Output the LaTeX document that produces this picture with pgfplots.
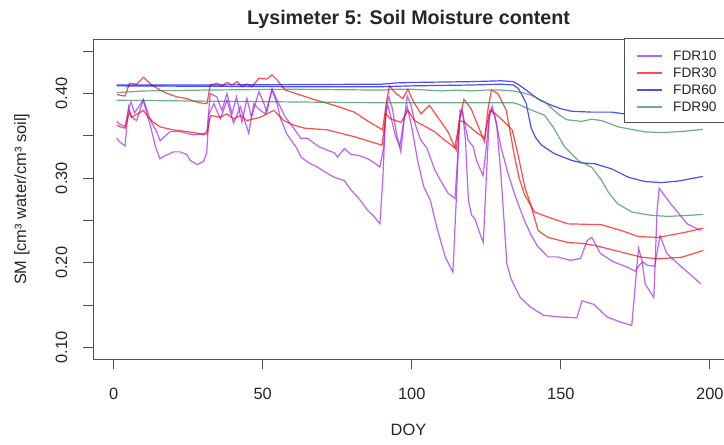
\documentclass[border=0pt]{standalone}
\usepackage{fontspec}
\setmainfont{Liberation Sans}
\usepackage{pgfplots}
\pgfplotsset{compat=1.18}
\definecolor{rpurple}{HTML}{A020F0}
\definecolor{rred}{HTML}{FF0000}
\definecolor{rblue}{HTML}{0000FF}
\definecolor{rgreen}{HTML}{2E8B57}
\definecolor{lpurple}{HTML}{BC63F5}
\definecolor{lred}{HTML}{FF4D4D}
\definecolor{lblue}{HTML}{4D4DFF}
\definecolor{lgreen}{HTML}{6DAE89}
\definecolor{axgray}{HTML}{505050}
\newcommand{\legline}[1]{\textcolor{#1}{\rule[4.1pt]{25pt}{1.6pt}}}
\begin{document}
\begin{tikzpicture}
\useasboundingbox (0,0) rectangle (724pt,445pt);
\begin{axis}[
  at={(93.3pt,85.7pt)}, anchor=south west,
  width=631pt, height=320pt, scale only axis,
  xmin=-6.84, xmax=204.84, ymin=0.086, ymax=0.464,
  axis line style={axgray, line width=0.8pt},
  tick style={axgray, line width=0.8pt},
  tick align=outside, major tick length=10pt,
  xtick pos=left, ytick pos=left,
  xtick={0,50,100,150,200},
  ytick={0.1,0.15,0.2,0.25,0.3,0.35,0.4,0.45},
  yticklabels={0.10,,0.20,,0.30,,0.40,},
  /pgf/number format/assume math mode=true,
  tick label style={font=\fontsize{16.4}{19}\selectfont, text=black!85},
  xticklabel style={anchor=north, inner sep=0pt},
  xticklabel shift=19pt,
  yticklabel style={rotate=90, anchor=south, inner sep=0pt},
  yticklabel shift=15.7pt,
  every axis plot/.append style={line width=1.2pt, draw opacity=0.7},
]
% FDR10
\addplot[rpurple] coordinates {
(1,0.367)(2,0.364)(3.8,0.361)(5,0.382)(5.8,0.390)(7,0.377)(8.5,0.385)(10,0.393)(11.2,0.380)(12.8,0.365)(14.4,0.355)(15.6,0.344)(17,0.349)(19,0.355)(22.3,0.355)(24.5,0.353)(26.8,0.351)(28.5,0.352)(30.2,0.351)(31.3,0.356)(32.4,0.400)(33.5,0.398)(34.6,0.396)(36.3,0.380)(38,0.400)(39.7,0.376)(41.2,0.396)(43,0.366)(44.7,0.394)(46.2,0.372)(48.7,0.402)(50,0.392)(51.4,0.378)(53.1,0.406)(54.8,0.392)(57.6,0.372)(60.4,0.359)(62.8,0.347)(65,0.347)(67.3,0.341)(69,0.337)(71.7,0.333)(74,0.330)(75.1,0.325)(77.4,0.335)(79.6,0.328)(82,0.327)(85.2,0.323)(87.5,0.318)(89.3,0.313)(90.5,0.335)(91.5,0.385)(92.3,0.396)(93.5,0.382)(95,0.350)(96.3,0.331)(97.4,0.368)(98.5,0.397)(99.6,0.388)(101.3,0.362)(103,0.345)(105,0.336)(107.8,0.309)(110,0.295)(112.2,0.282)(114.5,0.276)(115.5,0.330)(116.2,0.380)(117,0.378)(118.9,0.345)(120.6,0.337)(121.7,0.321)(123.9,0.303)(124.8,0.330)(126,0.372)(126.7,0.382)(128,0.372)(129.9,0.337)(132,0.309)(134.4,0.282)(136.5,0.262)(137.8,0.250)(140,0.233)(142.3,0.219)(145.7,0.207)(148.8,0.207)(153.2,0.203)(156.6,0.205)(158.8,0.226)(160.4,0.230)(163.3,0.211)(167.7,0.201)(172.2,0.195)(175,0.190)(176.2,0.197)(177.5,0.201)(179,0.197)(181.5,0.196)(183.3,0.232)(185.5,0.211)(191.2,0.193)(197,0.175)
};
\addplot[rpurple] coordinates {
(1,0.347)(2,0.343)(3.8,0.338)(5,0.384)(6,0.372)(7.7,0.368)(9.9,0.392)(11.5,0.372)(12.8,0.355)(14,0.337)(15.5,0.323)(17.5,0.327)(20,0.331)(22.3,0.331)(24.5,0.328)(25.7,0.321)(28,0.316)(30.2,0.320)(31.2,0.330)(32,0.376)(33.6,0.388)(35.8,0.370)(38,0.392)(40.2,0.365)(42.5,0.384)(45.3,0.353)(47,0.388)(49.2,0.380)(50.9,0.376)(53.1,0.404)(54.8,0.388)(56,0.370)(58.1,0.352)(61.5,0.335)(62.8,0.325)(65.5,0.318)(68.4,0.313)(71,0.307)(74,0.301)(77.4,0.297)(79.6,0.286)(81.8,0.278)(85.2,0.262)(87.5,0.254)(89.3,0.246)(90.3,0.300)(91.2,0.376)(92,0.386)(93,0.372)(94.5,0.350)(96,0.338)(97.5,0.372)(98.5,0.384)(100,0.360)(102,0.320)(104,0.290)(106.2,0.274)(108.4,0.242)(111.2,0.207)(113.8,0.189)(115,0.280)(116,0.370)(117,0.380)(118,0.345)(119,0.274)(120.1,0.256)(121.2,0.252)(122.5,0.238)(124,0.224)(125,0.300)(126,0.372)(127,0.385)(128.5,0.362)(130,0.300)(131.9,0.199)(133.3,0.181)(136.4,0.159)(139.7,0.148)(144.2,0.138)(149.8,0.136)(155.4,0.135)(157.1,0.155)(161,0.151)(165.5,0.136)(170,0.130)(173.8,0.126)(175.5,0.195)(176.1,0.217)(177.2,0.203)(178.3,0.175)(181.2,0.159)(182.3,0.262)(183,0.288)(186.8,0.270)(192.4,0.246)(197,0.238)
};
% FDR30
\addplot[rred] coordinates {
(1,0.399)(2,0.398)(3.8,0.397)(5.3,0.412)(7.7,0.411)(10,0.419)(12.8,0.410)(15.6,0.404)(18,0.400)(21.2,0.396)(24.5,0.394)(26.8,0.391)(29,0.389)(31.3,0.388)(32.4,0.410)(34.6,0.412)(36.3,0.409)(38,0.413)(39.7,0.410)(41.4,0.414)(43,0.408)(44.7,0.411)(46.4,0.408)(48.7,0.418)(51.4,0.417)(53.1,0.422)(54.8,0.416)(57.6,0.404)(62.8,0.398)(68,0.392)(74,0.386)(80.7,0.378)(85,0.368)(90.2,0.357)(91.5,0.390)(92.5,0.409)(94.7,0.400)(97,0.394)(98.7,0.405)(100.3,0.392)(103.1,0.376)(105.9,0.386)(108.7,0.372)(112.1,0.355)(114.9,0.333)(116,0.370)(117.5,0.393)(119.9,0.382)(124.4,0.343)(125.5,0.380)(126.7,0.404)(128.9,0.400)(131.7,0.380)(134.5,0.325)(136,0.300)(137.9,0.280)(141.2,0.260)(145.7,0.254)(152.4,0.246)(163.6,0.245)(170.4,0.238)(176,0.231)(182.7,0.230)(191.7,0.236)(197.8,0.241)
};
\addplot[rred] coordinates {
(1,0.3625)(2,0.361)(3.8,0.359)(5.3,0.378)(6,0.372)(8,0.376)(10,0.380)(11.5,0.372)(13.3,0.366)(15.6,0.3605)(20,0.357)(24.6,0.355)(28,0.353)(31.3,0.352)(32.5,0.374)(35.8,0.372)(38,0.376)(40.2,0.370)(42.5,0.374)(44.7,0.368)(49.2,0.372)(53.7,0.380)(57.1,0.368)(60.4,0.3625)(64.1,0.359)(71.7,0.357)(80.7,0.349)(90,0.339)(91.4,0.376)(92.8,0.370)(96.4,0.366)(98.7,0.380)(100.9,0.368)(104,0.362)(107.6,0.355)(111,0.345)(114.4,0.336)(116.1,0.368)(117.7,0.366)(121,0.356)(124.4,0.347)(126.1,0.380)(127.8,0.377)(130,0.370)(133.7,0.357)(135.5,0.330)(137.9,0.290)(140.1,0.266)(142.4,0.238)(145.7,0.230)(152.4,0.224)(156.9,0.223)(161.4,0.2205)(168.1,0.2146)(177.1,0.2066)(182.7,0.2047)(190.6,0.2066)(197.8,0.2146)
};
% FDR60
\addplot[rblue] coordinates {
(1,0.410)(30,0.410)(60,0.4105)(90,0.411)(95,0.4125)(100,0.413)(110,0.4135)(120,0.414)(130,0.415)(134,0.414)(136,0.410)(138.4,0.404)(141,0.397)(143,0.392)(146.9,0.386)(150,0.382)(153.6,0.379)(160,0.378)(167,0.378)(171,0.376)(180,0.375)(190,0.374)(197,0.373)
};
\addplot[rblue] coordinates {
(1,0.409)(30,0.4085)(60,0.408)(90,0.408)(100,0.409)(110,0.4095)(120,0.410)(130,0.411)(134,0.410)(135.7,0.406)(137,0.398)(138.4,0.388)(140,0.360)(141.5,0.348)(143.5,0.339)(147.8,0.329)(153.6,0.321)(157,0.318)(161.4,0.317)(167,0.311)(172.7,0.301)(178.2,0.296)(183.8,0.2947)(189.5,0.2966)(197.6,0.302)
};
% FDR90
\addplot[rgreen] coordinates {
(1,0.401)(10,0.403)(30,0.404)(60,0.405)(90,0.404)(95,0.405)(100,0.405)(105,0.404)(110,0.403)(115,0.404)(120,0.403)(125,0.404)(130,0.404)(134,0.403)(137,0.401)(140,0.398)(144.6,0.390)(149,0.376)(151.9,0.369)(156.9,0.367)(160.3,0.3696)(163.7,0.368)(169.3,0.3605)(178.3,0.3546)(184,0.3538)(191.6,0.3554)(197.6,0.3577)
};
\addplot[rgreen] coordinates {
(1,0.392)(30,0.391)(60,0.390)(90,0.389)(110,0.389)(130,0.389)(134,0.389)(136,0.387)(139,0.382)(144.5,0.3743)(147.4,0.3605)(151.3,0.3368)(155.8,0.321)(160.3,0.313)(163.7,0.2974)(166,0.283)(169,0.270)(173.8,0.260)(180.5,0.256)(186.1,0.2548)(192.8,0.256)(197.8,0.2572)
};
\end{axis}
% legend (as R's legend() at the top right of the plot region)
\fill[white] (624pt,407pt) rectangle (724.6pt,322.7pt);
\draw[axgray, line width=0.8pt] (624pt,407pt) rectangle (724.6pt,322.7pt);
\begin{scope}[every node/.style={anchor=base west, inner sep=0pt, font=\fontsize{13.7}{16}\selectfont, text=black!85}]
\node at (636.7pt,384.1pt) {\legline{lpurple}\hspace{11.3pt}FDR10};
\node at (636.7pt,367.1pt) {\legline{lred}\hspace{11.3pt}FDR30};
\node at (636.7pt,350.1pt) {\legline{lblue}\hspace{11.3pt}FDR60};
\node at (636.7pt,333.1pt) {\legline{lgreen}\hspace{11.3pt}FDR90};
\end{scope}
\node[font=\bfseries\fontsize{19.7}{23}\selectfont, text=black!85] at (408.5pt,426pt) {Lysimeter 5: Soil Moisture content};
\node[font=\fontsize{16.4}{19}\selectfont, text=black!85] at (408.5pt,15pt) {DOY};
\node[rotate=90, font=\fontsize{16.4}{19}\selectfont, text=black!85] at (22pt,245.7pt) {SM [cm³ water/cm³ soil]};
\end{tikzpicture}
\end{document}
